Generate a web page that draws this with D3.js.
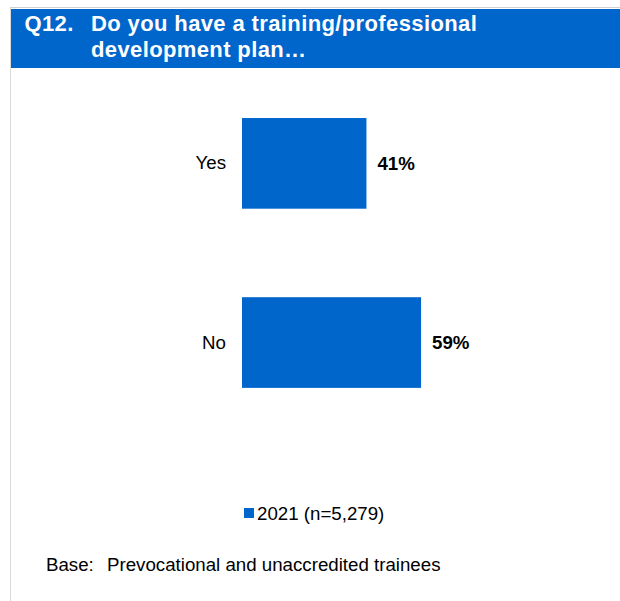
<!DOCTYPE html>
<html>
<head>
<meta charset="utf-8">
<script src="https://cdn.jsdelivr.net/npm/d3@7"></script>
<style>
  html, body { margin: 0; padding: 0; background: #fff; }
  svg { display: block; font-family: "Liberation Sans", Arial, sans-serif; }
</style>
</head>
<body>
<svg id="chart" width="620" height="601"></svg>
<script>
const categories = ["Yes", "No"];
const values2021 = [41, 59];
const valueLabels = ["41%", "59%"];
const titleNumber = "Q12.";
const titleLines = ["Do you have a training/professional", "development plan…"];
const legendLabel = "2021 (n=5,279)";
const baseLabel = "Base:";
const baseText = "Prevocational and unaccredited trainees";

const blue = "#0066CC";
const svg = d3.select("#chart");

// frame
svg.append("line").attr("x1", 10.5).attr("x2", 10.5).attr("y1", 7).attr("y2", 601)
  .attr("stroke", "#d9d9d9").attr("stroke-width", 1);
svg.append("line").attr("x1", 10).attr("x2", 620).attr("y1", 7.5).attr("y2", 7.5)
  .attr("stroke", "#d0d0d0").attr("stroke-width", 1);

// header
svg.append("rect").attr("x", 11).attr("y", 9).attr("width", 609).attr("height", 59).attr("fill", blue);
svg.append("text").attr("x", 24.5).attr("y", 31).attr("fill", "#fff")
  .attr("font-size", 22).attr("font-weight", "bold").attr("letter-spacing", 0.35).text(titleNumber);
svg.append("g").selectAll("text").data(titleLines).join("text")
  .attr("x", 91).attr("y", (d, i) => 31 + i * 25.5)
  .attr("fill", "#fff").attr("font-size", 22).attr("font-weight", "bold")
  .attr("letter-spacing", 0.38)
  .text(d => d);

// scales
const x = d3.scaleLinear().domain([0, 100]).range([242, 545.5]);
const y = d3.scaleBand().domain(categories).range([29.5, 476.4]).paddingInner(0.494).paddingOuter(0.494);

// bars
svg.append("g").selectAll("rect").data(categories).join("rect")
  .attr("x", x(0))
  .attr("y", d => y(d))
  .attr("width", (d, i) => x(values2021[i]) - x(0))
  .attr("height", y.bandwidth())
  .attr("fill", blue);

// category axis labels
const yAxis = d3.axisLeft(y).tickSize(0).tickPadding(16);
const ga = svg.append("g").attr("transform", `translate(${x(0)},0)`).call(yAxis);
ga.select(".domain").remove();
ga.selectAll("text").attr("font-size", 18.7).attr("fill", "#000")
  .attr("font-family", "Liberation Sans, Arial, sans-serif");

// value labels
svg.append("g").selectAll("text").data(categories).join("text")
  .attr("x", (d, i) => x(values2021[i]) + 11)
  .attr("y", d => y(d) + y.bandwidth() / 2)
  .attr("dy", "0.35em")
  .attr("font-size", 18.7).attr("font-weight", "bold").attr("fill", "#000")
  .text((d, i) => valueLabels[i]);

// legend
svg.append("rect").attr("x", 244).attr("y", 508).attr("width", 10).attr("height", 10).attr("fill", blue);
svg.append("text").attr("x", 257).attr("y", 519.5).attr("font-size", 18.7).attr("fill", "#000").text(legendLabel);

// base
const bt = svg.append("text").attr("y", 571).attr("font-size", 18.7).attr("fill", "#000");
bt.append("tspan").attr("x", 46).text(baseLabel);
bt.append("tspan").attr("x", 107).text(baseText);
</script>
</body>
</html>
